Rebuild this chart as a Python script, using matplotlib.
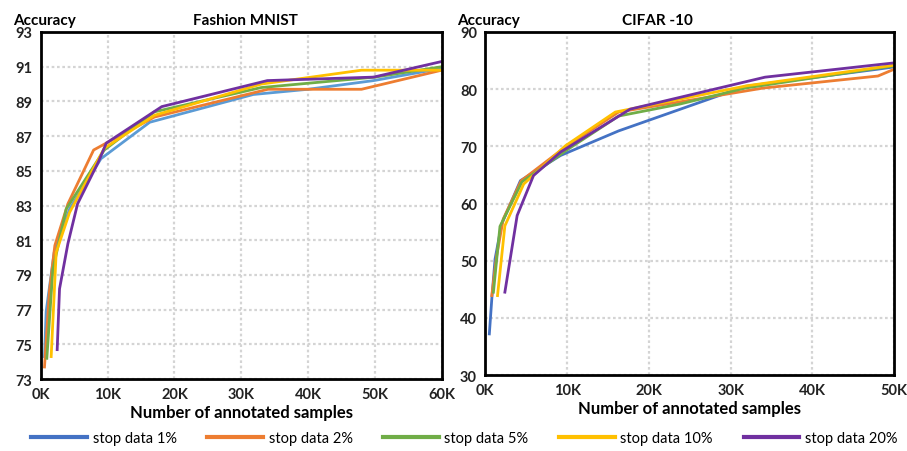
import matplotlib.pyplot as plt
from matplotlib.ticker import FuncFormatter

plt.rcParams['font.family'] = ['Lato', 'DejaVu Sans']

labels = ['stop data 1%', 'stop data 2%', 'stop data 5%', 'stop data 10%', 'stop data 20%']
colors = ['#4472C4', '#ED7D31', '#70AD47', '#FFC000', '#7030A0']

# Fashion MNIST (x in thousands of samples)
fm_x = [
    [0.55, 0.8, 2.0, 4.3, 9.0, 16.3, 31.8, 40, 49.8, 60],
    [0.55, 1.3, 2.1, 4.05, 7.9, 9.8, 17, 34, 48, 60],
    [0.9, 1.8, 3.8, 9.5, 17, 33, 50, 60],
    [1.55, 2.3, 4.3, 9.5, 17, 33, 48, 60],
    [2.45, 2.8, 4.05, 5.5, 8.6, 9.8, 18.1, 33.9, 49.8, 60],
]
fm_y = [
    [74.3, 76.9, 80.3, 82.8, 85.7, 87.8, 89.4, 89.7, 90.2, 90.9],
    [73.7, 78.1, 80.7, 83.1, 86.2, 86.6, 88.1, 89.7, 89.7, 90.8],
    [74.2, 79.3, 82.8, 86.2, 88.4, 89.8, 90.4, 91.0],
    [74.3, 80.3, 82.6, 86.3, 88.2, 90.0, 90.8, 90.8],
    [74.7, 78.2, 80.8, 83.1, 85.5, 86.6, 88.7, 90.2, 90.4, 91.3],
]

# CIFAR-10
cf_x = [
    [0.5, 0.8, 1.2, 2.0, 4.3, 9.2, 16.3, 31.8, 48, 50],
    [0.8, 1.4, 2.2, 4.4, 9.8, 16.3, 34, 48, 50],
    [1.0, 1.8, 4.5, 9.8, 16.3, 23.8, 31.8, 50],
    [1.5, 2.4, 4.7, 9.8, 15.9, 32, 50],
    [2.4, 3.9, 5.9, 9.2, 17.7, 34.2, 50],
]
cf_y = [
    [37.2, 43.3, 50.3, 56.4, 64.0, 68.4, 72.7, 80.5, 83.5, 83.9],
    [43.9, 50.9, 57.3, 64.0, 69.9, 76.0, 80.2, 82.3, 83.5],
    [44.5, 56.0, 63.8, 69.2, 75.3, 77.4, 80.2, 84.1],
    [43.9, 56.1, 63.4, 70.1, 76.0, 80.6, 84.2],
    [44.5, 57.9, 64.9, 69.0, 76.5, 82.1, 84.6],
]

fig = plt.figure(figsize=(9.07, 4.52), dpi=100)
ax1 = fig.add_axes([0.045, 0.159, 0.442, 0.768])
ax2 = fig.add_axes([0.535, 0.168, 0.451, 0.759])

kfmt = FuncFormatter(lambda v, p: f"{int(v)}K")


def style(ax, xmax, ylim, yticks, title, title_x):
    ax.set_xlim(0, xmax)
    ax.set_ylim(*ylim)
    ax.set_xticks(range(0, xmax + 1, 10))
    ax.xaxis.set_major_formatter(kfmt)
    ax.set_yticks(yticks)
    ax.grid(True, color='#d4d4d4', linestyle=(0, (1.2, 1.2)), linewidth=1.6)
    ax.set_axisbelow(True)
    for s in ax.spines.values():
        s.set_linewidth(2)
    ax.tick_params(length=0, labelsize=10.5, pad=6)
    for t in ax.get_xticklabels() + ax.get_yticklabels():
        t.set_fontweight('bold')
        t.set_color('#222222')
    ax.set_xlabel('Number of annotated samples', fontsize=12, fontweight='bold', labelpad=2)
    ax.text(-0.07, 1.015, 'Accuracy', transform=ax.transAxes, fontsize=11,
            fontweight='bold', ha='left', va='bottom')
    ax.text(title_x, 1.015, title, transform=ax.transAxes, fontsize=11,
            fontweight='bold', ha='center', va='bottom')


for i in range(5):
    ax1.plot(fm_x[i], fm_y[i], color=colors[i] if i else '#5B9BD5', lw=2, label=labels[i])
    ax2.plot(cf_x[i], cf_y[i], color=colors[i], lw=2, label=labels[i])

style(ax1, 60, (73, 93), range(73, 94, 2), 'Fashion MNIST', 0.51)
style(ax2, 50, (30, 90), range(30, 91, 10), 'CIFAR -10', 0.42)

handles = [plt.Line2D([], [], color=c, lw=3) for c in colors]
fig.legend(handles, labels, loc='lower center', ncol=5, frameon=False,
           bbox_to_anchor=(0.512, -0.015), fontsize=10.5, handlelength=3.8,
           columnspacing=2.1, handletextpad=0.4)

fig.savefig('out.png', dpi=100)
